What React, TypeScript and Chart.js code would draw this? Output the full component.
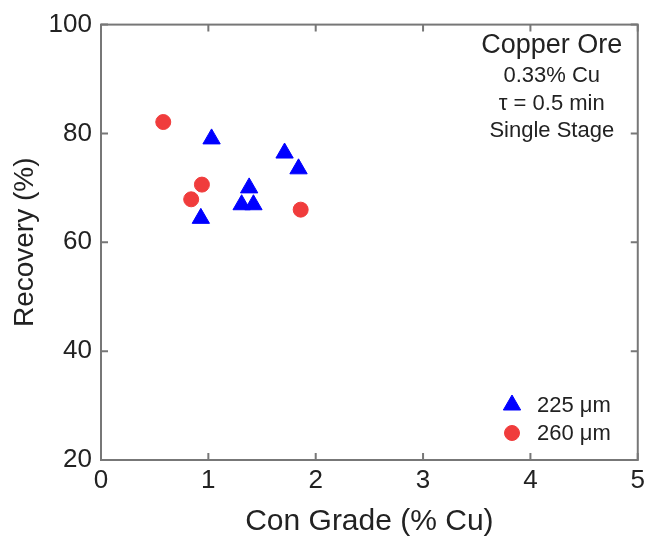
import React, { useEffect, useRef } from "react";
import { Chart, registerables } from "chart.js";

Chart.register(...registerables);

const seriesLabels = ["225 μm", "260 μm"];
const grade225 = [1.03, 0.93, 1.38, 1.31, 1.42, 1.71, 1.84];
const recovery225 = [79.0, 64.4, 70.0, 66.9, 66.9, 76.4, 73.5];
const grade260 = [0.58, 0.94, 0.84, 1.86];
const recovery260 = [82.1, 70.6, 67.9, 66.0];
const noteLines = ["Copper Ore", "0.33% Cu", "τ = 0.5 min", "Single Stage"];
const xTitle = "Con Grade (% Cu)";
const yTitle = "Recovery (%)";

const FONT = "'Liberation Sans', Arial, Helvetica, sans-serif";
const TEXT = "#222222";
const AXIS = "#777777";

function drawMarker(ctx: CanvasRenderingContext2D, style: string, r: number, x: number, y: number) {
  ctx.beginPath();
  if (style === "triangle") {
    let rad = 0;
    ctx.moveTo(x + Math.sin(rad) * r, y - Math.cos(rad) * r);
    rad += (2 * Math.PI) / 3;
    ctx.lineTo(x + Math.sin(rad) * r, y - Math.cos(rad) * r);
    rad += (2 * Math.PI) / 3;
    ctx.lineTo(x + Math.sin(rad) * r, y - Math.cos(rad) * r);
    ctx.closePath();
  } else {
    ctx.arc(x, y, r, 0, Math.PI * 2);
  }
  ctx.fill();
  ctx.stroke();
}

const framePlugin = {
  id: "frame",
  afterDraw(chart: any) {
    const { ctx, chartArea: a, scales } = chart;
    ctx.save();
    ctx.strokeStyle = AXIS;
    ctx.lineWidth = 2;
    ctx.strokeRect(a.left, a.top, a.right - a.left, a.bottom - a.top);
    const len = 7;
    ctx.beginPath();
    scales.x.ticks.forEach((t: any) => {
      const px = scales.x.getPixelForValue(t.value);
      ctx.moveTo(px, a.bottom);
      ctx.lineTo(px, a.bottom - len);
      ctx.moveTo(px, a.top);
      ctx.lineTo(px, a.top + len);
    });
    scales.y.ticks.forEach((t: any) => {
      const py = scales.y.getPixelForValue(t.value);
      ctx.moveTo(a.left, py);
      ctx.lineTo(a.left + len, py);
      ctx.moveTo(a.right, py);
      ctx.lineTo(a.right - len, py);
    });
    ctx.stroke();

    // annotation text
    ctx.fillStyle = TEXT;
    ctx.textAlign = "center";
    ctx.textBaseline = "middle";
    const cx = a.right - 86;
    ctx.font = `27px ${FONT}`;
    ctx.fillText(noteLines[0], cx, a.top + 21);
    ctx.font = `22px ${FONT}`;
    ctx.fillText(noteLines[1], cx, a.top + 51);
    ctx.fillText(noteLines[2], cx, a.top + 79);
    ctx.fillText(noteLines[3], cx, a.top + 106);

    // legend
    ctx.textAlign = "left";
    const lx = a.left + 411;
    const ys = [a.bottom - 55, a.bottom - 27];
    chart.data.datasets.forEach((ds: any, i: number) => {
      const y = ys[i];
      ctx.fillStyle = ds.backgroundColor;
      ctx.strokeStyle = ds.borderColor;
      ctx.lineWidth = 1;
      drawMarker(ctx, ds.pointStyle, ds.pointRadius, lx, y);
      ctx.fillStyle = TEXT;
      ctx.font = `22px ${FONT}`;
      ctx.fillText(ds.label, lx + 25, y + 1);
    });
    ctx.restore();
  },
};

export default function App() {
  const ref = useRef<HTMLCanvasElement | null>(null);
  useEffect(() => {
    if (!ref.current) return;
    const chart = new Chart(ref.current, {
      type: "scatter",
      data: {
        datasets: [
          {
            label: seriesLabels[0],
            data: grade225.map((x, i) => ({ x, y: recovery225[i] })),
            pointStyle: "triangle",
            pointRadius: 10,
            pointHoverRadius: 10,
            backgroundColor: "#0000ff",
            borderColor: "#0000ff",
            borderWidth: 1,
          },
          {
            label: seriesLabels[1],
            data: grade260.map((x, i) => ({ x, y: recovery260[i] })),
            pointStyle: "circle",
            pointRadius: 7.5,
            pointHoverRadius: 7.5,
            backgroundColor: "#f03c3c",
            borderColor: "#f03c3c",
            borderWidth: 1,
          },
        ],
      },
      options: {
        animation: false,
        responsive: false,
        layout: { padding: { top: 22, right: 12, left: 0, bottom: 0 } },
        plugins: { legend: { display: false }, tooltip: { enabled: false } },
        scales: {
          x: {
            type: "linear",
            min: 0,
            max: 5,
            ticks: { stepSize: 1, padding: 5, color: TEXT, font: { size: 26, family: FONT } },
            grid: { display: false, drawTicks: false },
            border: { display: false },
            title: { display: true, text: xTitle, color: TEXT, font: { size: 30, family: FONT }, padding: { bottom: 2, top: 0 } },
            afterFit(s: any) { s.height = 82; },
          },
          y: {
            type: "linear",
            min: 20,
            max: 100,
            ticks: { stepSize: 20, padding: 9, color: TEXT, font: { size: 26, family: FONT } },
            grid: { display: false, drawTicks: false },
            border: { display: false },
            title: { display: true, text: yTitle, color: TEXT, font: { size: 28, family: FONT }, padding: { top: 8, bottom: 0 } },
            afterFit(s: any) { s.width = 101; },
          },
        },
      },
      plugins: [framePlugin],
    });
    return () => chart.destroy();
  }, []);
  return (
    <div style={{ position: "fixed", left: 0, top: 0, width: 650, height: 542, background: "#fff" }}>
      <canvas ref={ref} width={650} height={542} style={{ width: 650, height: 542, display: "block" }} />
    </div>
  );
}
